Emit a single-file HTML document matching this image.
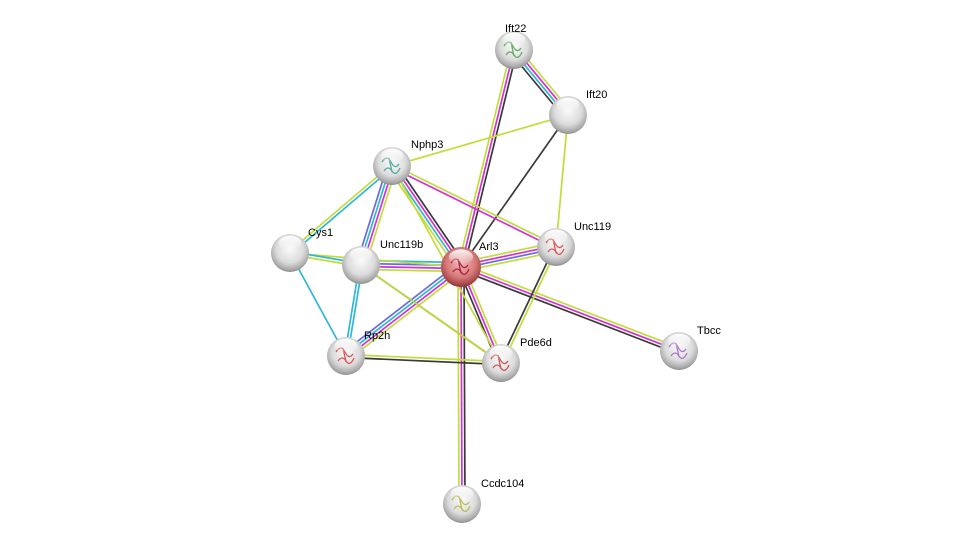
<!DOCTYPE html>
<html><head><meta charset="utf-8">
<style>
html,body{margin:0;padding:0;background:#fff;width:976px;height:549px;overflow:hidden}
svg text{font-family:"Liberation Sans",sans-serif;font-size:11px;fill:#000}
</style></head>
<body>
<svg id="s" width="976" height="549" viewBox="0 0 976 549" xmlns="http://www.w3.org/2000/svg">
<defs>
<radialGradient id="g" cx="50%" cy="40%" r="60%">
<stop offset="0" stop-color="#fafafa"/><stop offset="0.6" stop-color="#dcdcdc"/><stop offset="0.9" stop-color="#a8a8a8"/><stop offset="1" stop-color="#8a8a8a"/>
</radialGradient>
<radialGradient id="r" cx="50%" cy="40%" r="60%">
<stop offset="0" stop-color="#f2b8b8"/><stop offset="0.6" stop-color="#d87a7a"/><stop offset="0.9" stop-color="#a84848"/><stop offset="1" stop-color="#8a3030"/>
</radialGradient>
<linearGradient id="h" x1="0" y1="0" x2="0" y2="1"><stop offset="0" stop-color="#fff" stop-opacity="0.95"/><stop offset="1" stop-color="#fff" stop-opacity="0"/></linearGradient>
</defs>
<g id="edges"></g>
<g id="nodes"></g>
</svg>
<script>
var N={Ift22:[514,50],Ift20:[568,115],Nphp3:[392,166],Cys1:[290,253],Unc119b:[361,265],Arl3:[461,267],Unc119:[556,247],Rp2h:[346,356],Pde6d:[501,363],Tbcc:[679,351],Ccdc104:[462,504]};
var Y="#c2dc3a",M="#d62fd6",K="#3a3a3a",C="#2fb7d8",B="#6a6ae6";
var E=[["Arl3","Ift22",[Y,M,K]],["Arl3","Ift20",[K]],["Arl3","Nphp3",[Y,C,M,K]],["Arl3","Unc119b",[Y,M,B,C]],["Arl3","Unc119",[Y,M,B,Y]],["Arl3","Rp2h",[Y,M,C,B]],["Arl3","Pde6d",[Y,M,K]],["Arl3","Tbcc",[Y,M,K]],["Arl3","Ccdc104",[K,M,Y]],["Arl3","Cys1",[Y]],["Ift22","Ift20",[Y,M,C,K]],["Ift20","Nphp3",[Y]],["Ift20","Unc119",[Y]],["Nphp3","Unc119",[Y,M]],["Nphp3","Unc119b",[Y,M,C,B]],["Nphp3","Pde6d",[Y]],["Nphp3","Cys1",[C,Y]],["Cys1","Unc119b",[C,Y]],["Cys1","Rp2h",[C]],["Unc119b","Rp2h",[C,C]],["Unc119b","Pde6d",[K]],["Unc119b","Pde6d",[Y]],["Rp2h","Pde6d",[Y,K]],["Unc119","Pde6d",[Y,K]]];
var NS="http://www.w3.org/2000/svg",eg=document.getElementById("edges"),ng=document.getElementById("nodes");
E.forEach(function(e){var a=N[e[0]],b=N[e[1]],dx=b[0]-a[0],dy=b[1]-a[1],L=Math.hypot(dx,dy),px=-dy/L,py=dx/L,n=e[2].length,sp=3;
e[2].forEach(function(c,i){var o=(i-(n-1)/2)*sp;var l=document.createElementNS(NS,"line");
l.setAttribute("x1",a[0]+px*o);l.setAttribute("y1",a[1]+py*o);l.setAttribute("x2",b[0]+px*o);l.setAttribute("y2",b[1]+py*o);
l.setAttribute("stroke",c);l.setAttribute("stroke-width","1.7");eg.appendChild(l);});});
var lab={Ift22:[505,28],Ift20:[586,94],Nphp3:[411,144],Cys1:[308,232],Unc119b:[380,244],Arl3:[479,246],Unc119:[574,226],Rp2h:[364,335],Pde6d:[520,342],Tbcc:[697,330],Ccdc104:[481,483]};
var ic={Ift22:"#6a6",Nphp3:"#5a9",Unc119:"#d55",Rp2h:"#d55",Pde6d:"#c55",Tbcc:"#a7c",Ccdc104:"#bb5",Arl3:"#a24"};
for(var k in N){var p=N[k],R=k=="Arl3"?20:19;
var c=document.createElementNS(NS,"circle");c.setAttribute("cx",p[0]);c.setAttribute("cy",p[1]);c.setAttribute("r",R);c.setAttribute("fill",k=="Arl3"?"url(#r)":"url(#g)");ng.appendChild(c);
if(ic[k]){var q=document.createElementNS(NS,"path");var x=p[0],y=p[1];q.setAttribute("d","M"+(x-10)+" "+(y-4)+" q5 -8 9 0 t8 2 M"+(x-8)+" "+(y+5)+" q4 -6 8 0 t8 -3 M"+(x-3)+" "+(y-8)+" l3 14");q.setAttribute("stroke",ic[k]);q.setAttribute("fill","none");q.setAttribute("stroke-width","1.3");ng.appendChild(q);}
var h=document.createElementNS(NS,"ellipse");h.setAttribute("cx",p[0]);h.setAttribute("cy",p[1]-10);h.setAttribute("rx",R*0.6);h.setAttribute("ry",R*0.38);h.setAttribute("fill","url(#h)");ng.appendChild(h);
var t=document.createElementNS(NS,"text");t.setAttribute("x",lab[k][0]);t.setAttribute("y",lab[k][1]+4);t.textContent=k;ng.appendChild(t);}
</script>
</body></html>
